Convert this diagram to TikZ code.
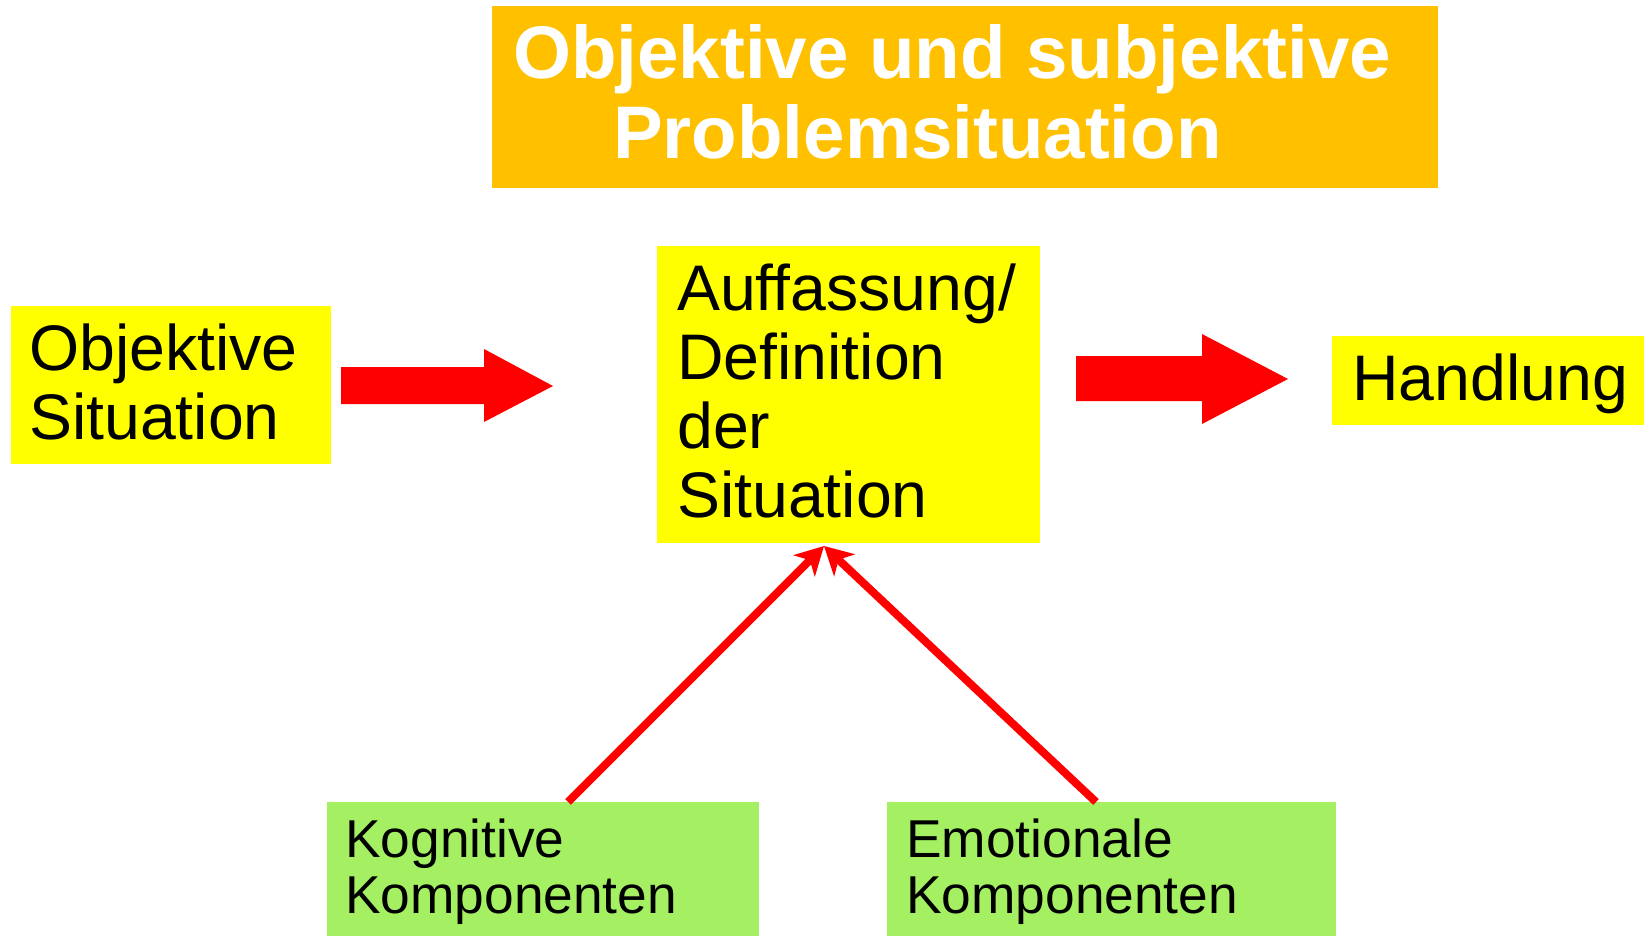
\documentclass[tikz,border=0pt]{standalone}
\usepackage{fontspec}
\setmainfont{Liberation Sans}
\usetikzlibrary{arrows.meta}
\definecolor{titleorange}{HTML}{FFC000}
\definecolor{boxyellow}{HTML}{FFFF00}
\definecolor{boxgreen}{HTML}{A5F062}
\definecolor{arrowred}{HTML}{FF0000}
\begin{document}
\begin{tikzpicture}[x=1pt,y=-1pt,
  box/.style={inner sep=0pt, outer sep=0pt, anchor=north west, draw=none},
  bigtext/.style={font=\fontsize{64.4}{69}\selectfont, anchor=base west, inner sep=0pt, text=black},
  smalltext/.style={font=\fontsize{53.3}{58}\selectfont, anchor=base west, inner sep=0pt, text=black},
  titletext/.style={font=\fontsize{74.5}{80}\selectfont\bfseries, anchor=base west, inner sep=0pt, text=white},
  blockarrow/.style={fill=arrowred, draw=none},
  linearrow/.style={draw=arrowred, line width=8pt, -{Stealth[length=28pt,width=30pt,inset=8pt]}}
]
\useasboundingbox (0,0) rectangle (1644,936);
\fill[white] (0,0) rectangle (1644,936);

% boxes
\node[box, fill=titleorange, minimum width=946pt, minimum height=182pt] (title) at (492,6) {};
\node[box, fill=boxyellow, minimum width=320pt, minimum height=158pt] (obj) at (11,306) {};
\node[box, fill=boxyellow, minimum width=383pt, minimum height=297pt] (cen) at (657,246) {};
\node[box, fill=boxyellow, minimum width=312pt, minimum height=89pt] (hand) at (1332,336) {};
\node[box, fill=boxgreen, minimum width=432pt, minimum height=134pt] (kog) at (327,802) {};
\node[box, fill=boxgreen, minimum width=449pt, minimum height=134pt] (emo) at (887,802) {};

% texts
\node[titletext] (title1) at (513,79) {Objektive und subjektive};
\node[titletext] (title2) at (613,159) {Problemsituation};

\node[bigtext] (obj1) at (29,370) {Objektive};
\node[bigtext] (obj2) at (29,439) {Situation};

\node[bigtext] (cen1) at (677,310) {Auffassung/};
\node[bigtext] (cen2) at (677,379) {Definition};
\node[bigtext] (cen3) at (677,448) {der};
\node[bigtext] (cen4) at (677,517) {Situation};

\node[bigtext] (hand1) at (1352,400) {Handlung};

\node[smalltext] (kog1) at (345,857) {Kognitive};
\node[smalltext] (kog2) at (345,913) {Komponenten};

\node[smalltext] (emo1) at (906,857) {Emotionale};
\node[smalltext] (emo2) at (906,913) {Komponenten};

% block arrows
\fill[blockarrow] (341,367) -- (484,367) -- (484,349) -- (553,386) -- (484,422) -- (484,404) -- (341,404) -- cycle;
\fill[blockarrow] (1076,356) -- (1202,356) -- (1202,334) -- (1288,379) -- (1202,424) -- (1202,401) -- (1076,401) -- cycle;

% line arrows
\coordinate (tip) at (824,546);
\coordinate (kstart) at (568,802);
\coordinate (estart) at (1096,802);
\draw[linearrow] (kstart) -- (tip);
\draw[linearrow] (estart) -- (tip);
\end{tikzpicture}
\end{document}
